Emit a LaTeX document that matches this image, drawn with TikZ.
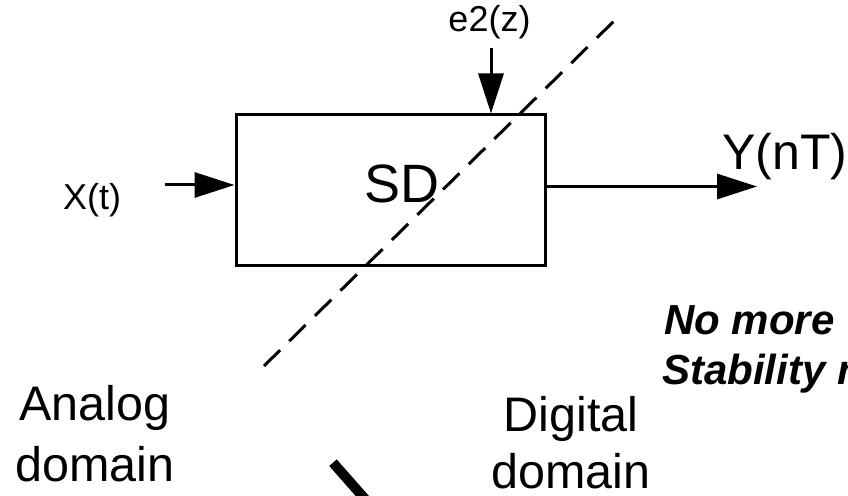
\documentclass[tikz,border=0pt]{standalone}
\usepackage{fontspec}
\setmainfont{Liberation Sans}
\usepackage{tikz}
\usetikzlibrary{positioning, arrows.meta}

\begin{document}
\begin{tikzpicture}[
    x=1pt, y=1pt,
    block/.style={draw, rectangle, line width=3pt, minimum width=309pt, minimum height=151pt, inner sep=0pt},
    sig/.style={line width=3pt, -{Triangle[length=40pt, width=25pt]}},
    cut/.style={line width=3pt, dash pattern=on 23pt off 13pt},
    lbl/.style={inner sep=0pt, anchor=base},
    big/.style={lbl, font=\fontsize{48.5}{58}\selectfont},
    note/.style={lbl, anchor=base west, font=\fontsize{42}{50}\selectfont\bfseries\itshape},
]
\useasboundingbox (0,0) rectangle (848,495);
\clip (0,0) rectangle (848,495);

\node[block] (sd) at (390.5, 304.5) {};
\node[lbl, font=\fontsize{54}{64}\selectfont] (sdtxt) at (402, 292) {SD};

\coordinate (xin) at (165, 310);
\coordinate (ein) at (491, 447);
\coordinate (yout) at (757, 308.5);
\node[lbl, font=\fontsize{36}{43}\selectfont] (xlbl) at (92, 285) {X(t)};
\node[lbl, font=\fontsize{36}{43}\selectfont] (elbl) at (489.5, 463) {e2(z)};
\node[lbl, anchor=base west, font=\fontsize{50}{60}\selectfont] (ylbl) at (722, 325) {Y(nT)};

\draw[sig] (xin) -- (xin -| sd.west);
\draw[sig] (ein) -- (ein |- sd.north);
\draw[sig] (yout -| sd.east) -- (yout);

\coordinate (cuta) at (613.3, 473.3);
\coordinate (cutb) at (264, 129);
\draw[cut] (cuta) -- (cutb);

\node[big] (ana) at (95, 74) {Analog};
\node[big] (anadom) at (95, 13) {domain};
\node[big] (dig) at (571, 63) {Digital};
\node[big] (digdom) at (571, 7) {domain};

\node[note] (nomore) at (664, 160) {No more};
\node[note] (stab) at (662, 110) {Stability r};

\coordinate (bara) at (333, 32.3);
\coordinate (barb) at (366.7, -6);
\draw[line width=10pt] (bara) -- (barb);
\end{tikzpicture}
\end{document}
